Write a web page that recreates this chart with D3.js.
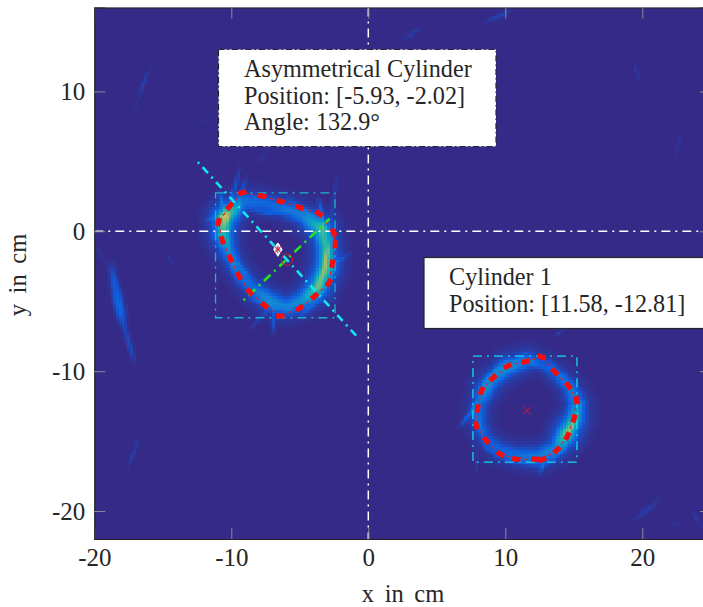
<!DOCTYPE html>
<html><head><meta charset="utf-8">
<script src="https://cdn.jsdelivr.net/npm/d3@7"></script>
<style>html,body{margin:0;padding:0;background:#fff;overflow:hidden}svg{display:block}text{font-family:"Liberation Serif",serif;fill:#262626}</style>
</head><body><div id="c"></div>
<script>
const xTicks=[-20,-10,0,10,20], yTicks=[10,0,-10,-20];
// heat ridge of each reflection ring: [x, y, intensity]
const ridgeOne=[[-9.15,2.21,.15],[-10.49,1.02,.52],[-10.61,-.16,.36],[-10.25,-1.36,.18],[-9.64,-2.55,.13],[-8.54,-3.98,.13],[-7.2,-4.93,.22],[-5.99,-5.41,.18],[-4.77,-4.93,.24],[-3.68,-3.98,.44],[-3.07,-2.55,.44],[-3.07,-1.12,.36],[-3.43,.19,.4],[-4.77,1.14,.18],[-6.23,1.74,.13],[-7.69,2.09,.12]];
const ridgeTwo=[[12.63,-9.33,.08],[13.72,-10.17,.1],[14.69,-11.12,.12],[15.23,-12.31,.2],[15.06,-13.38,.33],[14.45,-14.45,.46],[13.72,-15.52,.2],[12.38,-16.12,.18],[10.8,-16,.13],[9.58,-15.64,.11],[8.49,-14.69,.09],[8.07,-13.62,.12],[8.12,-12.31,.12],[8.56,-11.24,.22],[9.1,-10.52,.18],[10.19,-9.69,.22],[11.53,-9.21,.16]];
// faint streaks: [x1, y1, x2, y2, intensity, width]
const streaks=[[-18.76,-2.4,-18.4,-5,.1,.2],[-18.4,-4.6,-17.9,-6.6,.15,.22],[-17.9,-6.4,-17.1,-9.3,.08,.14],[-18.6,-3,-17.7,-6,.06,.16],[-16.8,-14.9,-17.55,-16.84,.05,.09],[-19.7,-1.2,-19.3,-2.3,.025,.09],[-14.65,-1.7,-14.2,-2.4,.035,.09],
[-15.47,13.17,-17.4,7.7,.018,.09],[-16.2,11.3,-16.7,9.9,.05,.09],[-11.1,8.4,-12.9,7.45,.015,.09],[10.44,15.8,8.6,15,.06,.12],[3.74,14.5,2.65,13.8,.04,.13],[19.37,12.1,19.8,10.66,.035,.09],[22.77,7.1,22.5,5.43,.03,.09],[14.2,-7.07,13.7,-7.43,.05,.09],
[22,-18.5,19.2,-20.76,.02,.09],[20.9,-19.5,19.6,-20.5,.035,.16],[23.1,-20.76,21.75,-21.2,.02,.1],[23.6,-19.9,24.4,-21.2,.035,.1],
[-9.4,4.6,-10.1,1.74,.08,.1],[-8.9,3.8,-9.6,2,.07,.1],[-7.2,5.8,-8.17,4.95,.025,.1],[-7,-7.3,-6.84,-5.6,.09,.1],[-8.6,-6.9,-7.3,-5.6,.05,.1],[-1.36,-1.6,-2.8,-2.44,.07,.1],[-2.34,3.88,-2.7,1.02,.05,.1],[-11.9,.9,-10.4,1.1,.08,.1],[-10.9,2.9,-10.3,.9,.14,.1],[-3.6,2.3,-3.2,.2,.14,.1],[-8.7,-4.7,-6.5,-5.6,.08,.1],[-9.5,-3.8,-10.3,-.8,.07,.12],
[-5.8,2.4,-3.8,.9,.07,.12],[-3.4,-3.2,-2.7,-.4,.12,.1],[-8,1.3,-5.5,1.5,.07,.12],[-9,1.7,-7,1.3,.05,.1],[-4,1.6,-2.4,-.9,.07,.1],[-9.9,-2,-8.6,-3.2,.06,.1],[-2.5,-3,-3.6,-4.7,.07,.1],[-5,-6,-3.4,-4.8,.08,.1],
[6.9,-13.7,8.1,-12.07,.1,.1],[6.6,-14.1,8.5,-11.4,.05,.1],[12.5,-17.3,13,-16.1,.1,.1],[7.9,-17.3,7.9,-15.6,.03,.1],[15.6,-12.2,14.4,-15,.1,.1],[8.4,-10.8,10.2,-9.2,.08,.12],[13.2,-9.3,15.3,-12,.06,.14],[9.3,-16.1,12.5,-16.6,.06,.12],[8.3,-15.2,9.2,-15.9,.06,.1],[11,-9,13,-9.8,.06,.1],[7.6,-12.5,8.5,-15,.06,.1],[14.2,-10,15.6,-11.6,.04,.1],[13,-16.7,14.9,-14.8,.07,.1],[10,-8.9,8,-11.5,.04,.1]];
// thick red outline dashes: [x, y]
const outlineOne=[[-9.2,2.76],[-7.74,2.52],[-6.4,2.14],[-5.01,1.71],[-3.6,1.26],[-2.53,-.09],[-2.41,-.93],[-2.63,-2.31],[-2.88,-3.69],[-3.92,-4.64],[-5.01,-5.5],[-6.42,-6.05],[-7.57,-5.29],[-8.66,-4.33],[-9.45,-3.19],[-10.07,-1.95],[-10.66,-.64],[-10.93,.66],[-10.12,1.79]];
const outlineTwo=[[12.63,-8.98],[13.62,-10.05],[14.6,-11.05],[15.2,-12.07],[15.01,-13.38],[14.53,-14.64],[13.77,-15.64],[12.7,-16.31],[12.21,-16.29],[10.8,-16.29],[9.64,-15.93],[8.61,-14.95],[7.88,-13.86],[7.98,-12.67],[8.27,-11.41],[9.1,-10.48],[10.17,-9.64],[11.48,-9.31]];
const boxes=[[-11.15,-2.43,2.75,-6.18,"#1cb4d0"],[7.64,15.23,-8.93,-16.5,"#12dcec"]];
const axisLinesCyan=[[-12.44,4.95,-.76,-7.6]], axisLinesGreen=[[-9.1,-4.93,-2.82,.9]];
const centreOne=[-5.94,-2.02], crossOne=[-6.6,-1.3], crossTwo=[11.58,-12.81];
const noteOne=["Asymmetrical Cylinder","Position: [-5.93, -2.02]","Angle: 132.9°"];
const noteTwo=["Cylinder 1","Position: [11.58, -12.81]"];
const parula=["#352a87","#0f5cdd","#1481d6","#06a4ca","#2eb7a4","#87bf77","#d1bb59","#fec832","#f9fb0e"];

const W=703,H=607,L=94.3,R=710.8,T=7.5,B=539;
const x=d3.scaleLinear().domain([-20,25]).range([L,R]);
const y=d3.scaleLinear().domain([16,-22]).range([T,B]);
const colour=d3.scaleLinear().domain(parula.map((_,i)=>i/(parula.length-1))).range(parula).clamp(true);
const svg=d3.select("#c").append("svg").attr("width",W).attr("height",H);
svg.append("defs").append("clipPath").attr("id","p").append("rect").attr("x",L).attr("y",T).attr("width",R-L).attr("height",B-T);
const g=svg.append("g").attr("clip-path","url(#p)");
g.append("rect").attr("x",L).attr("y",T).attr("width",R-L).attr("height",B-T).attr("fill",parula[0]);

function segDist(px,py,a,b,c,d){const dx=c-a,dy=d-b,l=dx*dx+dy*dy;let t=l?((px-a)*dx+(py-b)*dy)/l:0;t=Math.max(0,Math.min(1,t));const qx=a+t*dx,qy=b+t*dy;return [(px-qx)**2+(py-qy)**2,t];}
const STEP=.2,cells=[];
function ridgeVal(r,px,py){let v=0;for(let i=0;i<r.length;i++){const p=r[i],q=r[(i+1)%r.length];const [d,t]=segDist(px,py,p[0],p[1],q[0],q[1]);const a=p[2]+(q[2]-p[2])*t;v=Math.max(v,a*Math.exp(-d/(2*.34*.34))+.35*a*Math.exp(-d/(2*.78*.78)));}return v;}
for(const gx of d3.range(-20,25,STEP))for(const gy of d3.range(-22,16,STEP)){
  let v=0;const cx=gx+STEP/2,cy=gy+STEP/2;
  if(cx>-13&&cx<-1&&cy>-8&&cy<5)v+=ridgeVal(ridgeOne,cx,cy);
  if(cx>6&&cx<17&&cy>-18.5&&cy<-7.5)v+=ridgeVal(ridgeTwo,cx,cy);
  for(const s of streaks){const [d,t]=segDist(cx,cy,s[0],s[1],s[2],s[3]);if(d<2)v+=s[4]*Math.exp(-d/(2*s[5]*s[5]))*(.35+.65*Math.sin(Math.PI*t));}
  if(v>.008)cells.push({gx,gy,v});
}
g.append("g").selectAll("rect").data(cells).join("rect")
 .attr("x",d=>x(d.gx)).attr("y",d=>y(d.gy+STEP)).attr("width",x(STEP)-x(0)+.4).attr("height",y(0)-y(STEP)+.4)
 .attr("fill",d=>colour(d.v)).attr("shape-rendering","crispEdges");

const dd="9 5 2 5";
g.append("line").attr("x1",x(0)).attr("x2",x(0)).attr("y1",T).attr("y2",B).attr("stroke","#fff").attr("stroke-width",1.5).attr("stroke-dasharray",dd);
g.append("line").attr("x1",L).attr("x2",R).attr("y1",y(0)).attr("y2",y(0)).attr("stroke","#fff").attr("stroke-width",1.5).attr("stroke-dasharray",dd);
boxes.forEach(b=>g.append("rect").attr("x",x(b[0])).attr("y",y(b[2])).attr("width",x(b[1])-x(b[0])).attr("height",y(b[3])-y(b[2])).attr("fill","none").attr("stroke",b[4]).attr("stroke-width",1.3).attr("stroke-dasharray",dd));
axisLinesCyan.forEach(s=>g.append("line").attr("x1",x(s[0])).attr("y1",y(s[1])).attr("x2",x(s[2])).attr("y2",y(s[3])).attr("stroke","#14e6f0").attr("stroke-width",2.6).attr("stroke-dasharray","2 5 8 5"));
axisLinesGreen.forEach(s=>g.append("line").attr("x1",x(s[0])).attr("y1",y(s[1])).attr("x2",x(s[2])).attr("y2",y(s[3])).attr("stroke","#22e622").attr("stroke-width",2.6).attr("stroke-dasharray","2 5 9 5"));

function outline(o){
  const n=o.length,layer=g.append("g");
  const ang=i=>{const a=o[(i+n-1)%n],b=o[(i+1)%n];return Math.atan2(y(b[1])-y(a[1]),x(b[0])-x(a[0]))*180/Math.PI;};
  layer.selectAll("rect").data(o).join("rect").attr("x",-4.2).attr("y",-2.6).attr("width",8.4).attr("height",5.2).attr("fill","#f80d0d")
    .attr("transform",(d,i)=>`translate(${x(d[0])},${y(d[1])}) rotate(${ang(i)})`);
  layer.selectAll("line").data(o).join("line").attr("x1",-1.8).attr("x2",1.8).attr("stroke","#ea1a22").attr("stroke-width",1)
    .attr("transform",(d,i)=>{const q=o[(i+1)%n];const mx=(x(d[0])+x(q[0]))/2,my=(y(d[1])+y(q[1]))/2;return `translate(${mx},${my}) rotate(${Math.atan2(y(q[1])-y(d[1]),x(q[0])-x(d[0]))*180/Math.PI})`;});
}
outline(outlineOne);outline(outlineTwo);
g.append("circle").attr("cx",x(centreOne[0])).attr("cy",y(centreOne[1])).attr("r",5.7).attr("fill","none").attr("stroke","#e0141e").attr("stroke-width",1);
g.append("path").attr("transform",`translate(${x(crossOne[0])},${y(crossOne[1])})`).attr("d",d3.line()([[0,-6],[3.8,0],[0,6],[-3.8,0],[0,-6]])).attr("fill","#ffd8e0").attr("fill-opacity",.5).attr("stroke","#fff").attr("stroke-width",1.6);
[crossOne,crossTwo].forEach(c=>{const s=3.8;g.append("path").attr("d",`M${x(c[0])-s},${y(c[1])-s}L${x(c[0])+s},${y(c[1])+s}M${x(c[0])-s},${y(c[1])+s}L${x(c[0])+s},${y(c[1])-s}`).attr("stroke","#e0141e").attr("stroke-width",1).attr("fill","none");});

// axes
const fmt=d=>String(d);
const bottom=svg.append("g").attr("transform",`translate(0,${B})`).call(d3.axisBottom(x).tickValues(xTicks).tickSize(-11).tickPadding(9).tickFormat(fmt));
const top_=svg.append("g").attr("transform",`translate(0,${T})`).call(d3.axisTop(x).tickValues(xTicks).tickSize(-11).tickFormat(""));
const left=svg.append("g").attr("transform",`translate(${L},0)`).call(d3.axisLeft(y).tickValues(yTicks).tickSize(-11).tickPadding(9).tickFormat(fmt));
const right=svg.append("g").attr("transform",`translate(${R},0)`).call(d3.axisRight(y).tickValues(yTicks).tickSize(-11).tickFormat(""));
[bottom,top_,left,right].forEach(a=>{a.selectAll(".domain").attr("stroke","#262626").attr("stroke-width",1.2);a.selectAll(".tick line").attr("stroke","#8a8a96").attr("stroke-width",1);a.selectAll("text").attr("font-size",25).attr("font-family",'"Liberation Serif",serif').attr("fill","#262626");});
svg.append("text").attr("x",403).attr("y",602).attr("text-anchor","middle").attr("font-size",24.5).attr("word-spacing",4.5).text("x in cm");
svg.append("text").attr("transform","translate(26,275) rotate(-90)").attr("text-anchor","middle").attr("font-size",24.5).attr("word-spacing",4.5).text("y in cm");

// notes
svg.append("rect").attr("x",218.5).attr("y",49.5).attr("width",277.5).attr("height",97).attr("fill","#fff").attr("stroke","#262626").attr("stroke-width",1.2).attr("stroke-dasharray","6 3 1.5 3");
noteOne.forEach((t,i)=>svg.append("text").attr("x",244).attr("y",[76.5,104,129.5][i]).attr("font-size",24.2).text(t));
svg.append("rect").attr("x",424).attr("y",257.5).attr("width",290).attr("height",71).attr("fill","#fff").attr("stroke","#262626").attr("stroke-width",1.2);
noteTwo.forEach((t,i)=>svg.append("text").attr("x",449).attr("y",[285,312][i]).attr("font-size",24.2).text(t));
</script></body></html>
